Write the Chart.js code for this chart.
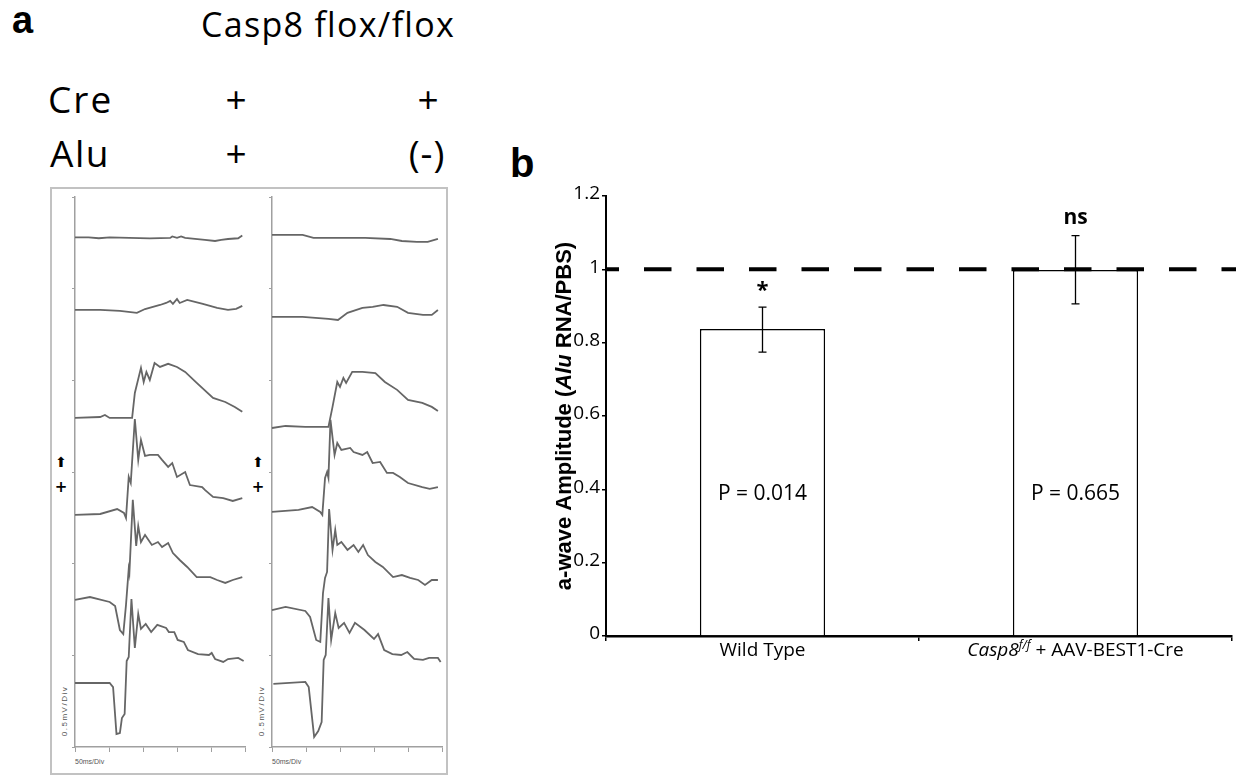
<!DOCTYPE html>
<html>
<head>
<meta charset="utf-8">
<script src="https://cdn.jsdelivr.net/npm/chart.js@4.4.1/dist/chart.umd.min.js"></script>
<style>
  body { margin: 0; background: #fff; }
  #page { position: relative; width: 1236px; height: 776px; overflow: hidden; font-family: "Open Sans", sans-serif; color: #000; }
  .txt { position: absolute; line-height: 1; white-space: nowrap; }
  .ctr { text-align: center; width: 60px; }
  .small { font: 8px/1 "Liberation Sans", sans-serif; color: #555; letter-spacing: 1.5px; }
  canvas { position: absolute; }
</style>
</head>
<body>
<div id="page">
  <div style="position:absolute;left:50px;top:187px;width:398px;height:588px;border:2px solid #c2c2c2;box-sizing:border-box"></div>

  <div class="txt" style="left:12px;top:1px;font:bold 38px/1 'Liberation Sans'">a</div>
  <div class="txt" style="left:201px;top:7px;font-size:34px;letter-spacing:1.3px">Casp8 flox/flox</div>
  <div class="txt" style="left:48px;top:80px;font-size:37px;letter-spacing:2px">Cre</div>
  <div class="txt ctr" style="left:206px;top:80px;font-size:37px">+</div>
  <div class="txt ctr" style="left:398px;top:80px;font-size:37px">+</div>
  <div class="txt" style="left:50px;top:134px;font-size:37px;letter-spacing:1.5px">Alu</div>
  <div class="txt ctr" style="left:206px;top:134px;font-size:37px">+</div>
  <div class="txt ctr" style="left:397px;top:134px;font-size:37px;letter-spacing:1px">(-)</div>

  <div class="txt" style="left:61px;top:462px;transform:translate(-50%,-50%);font:14px/1 'DejaVu Sans'">⬆</div>
  <div class="txt" style="left:61px;top:487px;transform:translate(-50%,-50%);font:bold 15px/1 'DejaVu Sans'">+</div>
  <div class="txt" style="left:258px;top:462px;transform:translate(-50%,-50%);font:14px/1 'DejaVu Sans'">⬆</div>
  <div class="txt" style="left:258px;top:487px;transform:translate(-50%,-50%);font:bold 15px/1 'DejaVu Sans'">+</div>

  <div class="txt small" style="left:65px;top:711px;transform:translate(-50%,-50%) rotate(-90deg)">0.5mV/Div</div>
  <div class="txt small" style="left:262px;top:711px;transform:translate(-50%,-50%) rotate(-90deg)">0.5mV/Div</div>
  <div class="txt small" style="left:75px;top:758px;font-size:7px;letter-spacing:0">50ms/Div</div>
  <div class="txt small" style="left:272px;top:758px;font-size:7px;letter-spacing:0">50ms/Div</div>

  <div class="txt" style="left:510px;top:143px;font:bold 40px/1 'Liberation Sans'">b</div>

  <canvas id="ergLeft" width="190" height="570" style="left:60px;top:190px"></canvas>
  <canvas id="ergRight" width="190" height="570" style="left:257px;top:190px"></canvas>
  <canvas id="barChart" width="736" height="500" style="left:500px;top:180px"></canvas>
</div>

<script>
// ---- panel a: ERG traces, [time ms, mV on the stacked display] ----
const ergTimeMax = 250;
const ergTimeStep = 50;
const ergVoltMax = 3;
const ergVoltStep = 0.5;

const creAluTrace1 = [[0,2.78],[20,2.78],[35,2.775],[51,2.78],[80,2.777],[110,2.774],[140,2.777],[143,2.785],[150,2.777],[156,2.785],[162,2.777],[191,2.766],[206,2.76],[215,2.766],[225,2.771],[240,2.775],[246,2.79]];
const creAluTrace2 = [[0,2.384],[37,2.384],[66,2.379],[91,2.368],[103,2.389],[125,2.411],[134,2.422],[140,2.433],[144,2.417],[150,2.444],[154,2.422],[165,2.439],[188,2.417],[209,2.395],[225,2.384],[237,2.39],[246,2.406]];
const creAluTrace3 = [[0,1.795],[37,1.8],[44,1.811],[51,1.795],[84,1.795],[88,1.931],[97,2.068],[101,1.991],[105,2.046],[110,2.002],[117,2.095],[125,2.073],[137,2.09],[150,2.073],[162,2.046],[179,1.986],[203,1.904],[221,1.882],[235,1.855],[246,1.828]];
const creAluTrace4 = [[0,1.266],[37,1.271],[62,1.298],[72,1.277],[75,1.249],[79,1.473],[82,1.44],[88,1.789],[93,1.566],[97,1.675],[103,1.588],[110,1.593],[122,1.593],[128,1.566],[137,1.528],[143,1.549],[150,1.473],[162,1.5],[169,1.429],[187,1.418],[191,1.402],[203,1.364],[218,1.358],[232,1.342],[246,1.358]];
const creAluTrace5 = [[0,0.802],[22,0.818],[51,0.791],[59,0.769],[66,0.638],[71,0.616],[75,0.775],[79,0.971],[80,0.949],[85,1.348],[90,1.097],[93,1.206],[97,1.118],[103,1.157],[113,1.102],[122,1.118],[128,1.091],[137,1.113],[144,1.058],[154,1.02],[165,0.982],[179,0.927],[199,0.927],[209,0.911],[221,0.895],[232,0.911],[246,0.927]];
const creAluTrace6 = [[0,0.349],[51,0.349],[56,0.327],[61,0.071],[66,0.076],[69,0.158],[73,0.18],[76,0.469],[79,0.491],[83,0.807],[88,0.54],[93,0.726],[97,0.644],[104,0.671],[112,0.627],[121,0.666],[134,0.649],[138,0.627],[146,0.627],[151,0.584],[160,0.573],[166,0.529],[181,0.507],[197,0.502],[201,0.513],[206,0.48],[218,0.464],[225,0.48],[240,0.486],[248,0.469]];

const creNoAluTrace1 = [[0,2.793],[45,2.793],[61,2.777],[137,2.777],[174,2.771],[191,2.76],[213,2.755],[229,2.755],[244,2.771]];
const creNoAluTrace2 = [[0,2.346],[45,2.346],[83,2.335],[97,2.329],[111,2.368],[133,2.395],[148,2.401],[164,2.411],[184,2.401],[200,2.368],[222,2.357],[235,2.357],[244,2.384]];
const creNoAluTrace3 = [[0,1.74],[20,1.751],[49,1.746],[83,1.746],[89,1.855],[96,1.991],[100,1.964],[105,2.013],[109,1.986],[118,2.046],[133,2.046],[152,2.04],[166,1.991],[184,1.948],[200,1.893],[221,1.877],[235,1.855],[244,1.833]];
const creNoAluTrace4 = [[0,1.282],[39,1.293],[59,1.309],[71,1.282],[74,1.266],[78,1.468],[81,1.5],[83,1.468],[86,1.784],[92,1.593],[96,1.658],[102,1.62],[115,1.631],[120,1.609],[133,1.593],[140,1.609],[148,1.549],[159,1.555],[169,1.495],[178,1.495],[188,1.473],[200,1.44],[221,1.418],[232,1.408],[244,1.418]];
const creNoAluTrace5 = [[0,0.747],[20,0.764],[49,0.742],[56,0.709],[65,0.584],[71,0.573],[75,0.84],[78,0.922],[81,0.955],[84,1.298],[89,1.075],[93,1.184],[96,1.102],[102,1.118],[111,1.075],[120,1.102],[127,1.064],[134,1.102],[141,1.047],[152,1.009],[163,0.982],[178,0.927],[191,0.938],[203,0.922],[215,0.911],[225,0.884],[235,0.911],[244,0.911]];
const creNoAluTrace6 = [[2,0.344],[49,0.355],[54,0.327],[62,0.055],[68,0.087],[73,0.136],[76,0.475],[79,0.502],[83,0.813],[87,0.584],[93,0.731],[98,0.649],[106,0.677],[114,0.622],[122,0.677],[136,0.638],[150,0.589],[156,0.616],[165,0.529],[177,0.507],[190,0.502],[199,0.518],[209,0.48],[222,0.475],[231,0.486],[244,0.486],[248,0.464]];

// ---- panel b: a-wave amplitude ----
const groups = ["Wild Type", "Casp8f/f + AAV-BEST1-Cre"];
const amplitude = [0.837, 0.998];
const errLow = [0.774, 0.906];
const errHigh = [0.897, 1.092];
const pLabels = ["P = 0.014", "P = 0.665"];
const sigMarks = ["*", "ns"];
const yTickLabels = ["0", "0.2", "0.4", "0.6", "0.8", "1", "1.2"];
const referenceLevel = 1;

Chart.defaults.font.family = "Open Sans";
Chart.defaults.color = "#000";

const traceColor = "#666";
const ergAxisColor = "#a0a0a0";

function renderErgPanel(canvasId, traces) {
    const canvas = document.getElementById(canvasId);
    if (!canvas) return;

    new Chart(canvas.getContext("2d"), {
        type: "line",
        data: {
            datasets: traces.map((tr) => ({
                data: tr.map(([t, v]) => ({ x: t, y: v })),
                borderColor: traceColor,
                borderWidth: 1.8,
                pointRadius: 0,
                tension: 0,
                clip: false,
            })),
        },
        options: {
            responsive: false,
            animation: false,
            events: [],
            layout: { padding: { left: 5, right: 5, top: 7, bottom: 3 } },
            plugins: { legend: { display: false }, tooltip: { enabled: false } },
            scales: {
                x: {
                    type: "linear",
                    min: 0,
                    max: ergTimeMax,
                    ticks: { display: false, stepSize: ergTimeStep },
                    grid: { drawOnChartArea: false, tickLength: 5, color: ergAxisColor },
                    border: { color: ergAxisColor, width: 1.5 },
                    afterFit: (s) => { s.height = 10; },
                },
                y: {
                    min: 0,
                    max: ergVoltMax,
                    ticks: { display: false, stepSize: ergVoltStep },
                    grid: { drawOnChartArea: false, tickLength: 3, color: ergAxisColor },
                    border: { color: ergAxisColor, width: 1.5 },
                    afterFit: (s) => { s.width = 10; },
                },
            },
        },
    });
}

// draws dashed reference, error bars, marks, p values, x labels and the y title
const barExtras = {
    id: "barExtras",
    afterDatasetsDraw(chart) {
        const { ctx, chartArea } = chart;
        const x = chart.scales.x;
        const y = chart.scales.y;
        ctx.save();

        const yRef = y.getPixelForValue(referenceLevel);
        ctx.strokeStyle = "#000";
        ctx.lineWidth = 4;
        ctx.setLineDash([27.5, 25]);
        ctx.lineDashOffset = 14.5;
        ctx.beginPath();
        ctx.moveTo(chartArea.left, yRef);
        ctx.lineTo(chart.width, yRef);
        ctx.stroke();
        ctx.setLineDash([]);

        ctx.lineWidth = 1.3;
        ctx.textAlign = "center";
        ctx.textBaseline = "alphabetic";
        groups.forEach((g, i) => {
            const cx = x.getPixelForValue(i);
            const top = y.getPixelForValue(errHigh[i]);
            const bot = y.getPixelForValue(errLow[i]);
            ctx.beginPath();
            ctx.moveTo(cx, top); ctx.lineTo(cx, bot);
            ctx.moveTo(cx - 4, top); ctx.lineTo(cx + 4, top);
            ctx.moveTo(cx - 4, bot); ctx.lineTo(cx + 4, bot);
            ctx.stroke();

            ctx.font = i === 0 ? "bold 22px 'Open Sans'" : "bold 21px 'Open Sans'";
            ctx.fillText(sigMarks[i], cx, top - (i === 0 ? 10 : 12));

            ctx.font = "21px 'Open Sans'";
            ctx.fillText(pLabels[i], cx, y.getPixelForValue(0.37));
        });

        // category labels
        const labelY = chartArea.bottom + 20;
        ctx.font = "19px 'Open Sans'";
        ctx.fillText(groups[0], x.getPixelForValue(0), labelY);

        const parts = [
            { t: "Casp8", f: "italic 19px 'Open Sans'", dy: 0 },
            { t: "f/f", f: "italic 12px 'Open Sans'", dy: -7 },
            { t: " + AAV-BEST1-Cre", f: "19px 'Open Sans'", dy: 0 },
        ];
        let total = 0;
        parts.forEach((p) => { ctx.font = p.f; p.w = ctx.measureText(p.t).width; total += p.w; });
        let px = x.getPixelForValue(1) - total / 2;
        ctx.textAlign = "left";
        parts.forEach((p) => { ctx.font = p.f; ctx.fillText(p.t, px, labelY + p.dy); px += p.w; });

        // y axis title with italic gene name
        const title = [
            { t: "a-wave Amplitude (", f: "bold 22px 'Liberation Sans'" },
            { t: "Alu", f: "italic bold 22px 'Liberation Sans'" },
            { t: " RNA/PBS)", f: "bold 22px 'Liberation Sans'" },
        ];
        let tw = 0;
        title.forEach((p) => { ctx.font = p.f; p.w = ctx.measureText(p.t).width; tw += p.w; });
        ctx.translate(71, (chartArea.top + chartArea.bottom) / 2);
        ctx.rotate(-Math.PI / 2);
        let tx = -tw / 2;
        title.forEach((p) => { ctx.font = p.f; ctx.fillText(p.t, tx, 0); tx += p.w; });

        ctx.restore();
    },
};

function renderBarChart() {
    const canvas = document.getElementById("barChart");
    if (!canvas) return;

    new Chart(canvas.getContext("2d"), {
        type: "bar",
        data: {
            labels: groups,
            datasets: [{
                data: amplitude,
                backgroundColor: "#fff",
                borderColor: "#000",
                borderWidth: 1.5,
                barPercentage: 0.4,
                categoryPercentage: 1,
            }],
        },
        options: {
            responsive: false,
            animation: false,
            events: [],
            layout: { padding: { left: 56, right: 4, top: 16, bottom: 4 } },
            plugins: { legend: { display: false }, tooltip: { enabled: false } },
            scales: {
                x: {
                    ticks: { display: false },
                    grid: { offset: true, drawOnChartArea: false, tickLength: 5, color: "#000", lineWidth: 1.5 },
                    border: { color: "#000", width: 2.5 },
                    afterFit: (s) => { s.height = 40; },
                },
                y: {
                    min: 0,
                    max: 1.2,
                    ticks: {
                        stepSize: 0.2,
                        padding: 2,
                        labelOffset: -2,
                        font: { size: 19 },
                        callback: (value, index) => yTickLabels[index],
                    },
                    grid: { drawOnChartArea: false, tickLength: 4, color: "#000", lineWidth: 1.5 },
                    border: { color: "#000", width: 2 },
                    afterFit: (s) => { s.width = 50; },
                },
            },
        },
        plugins: [barExtras],
    });
}

renderErgPanel("ergLeft", [creAluTrace1, creAluTrace2, creAluTrace3, creAluTrace4, creAluTrace5, creAluTrace6]);
renderErgPanel("ergRight", [creNoAluTrace1, creNoAluTrace2, creNoAluTrace3, creNoAluTrace4, creNoAluTrace5, creNoAluTrace6]);
renderBarChart();
</script>
</body>
</html>
